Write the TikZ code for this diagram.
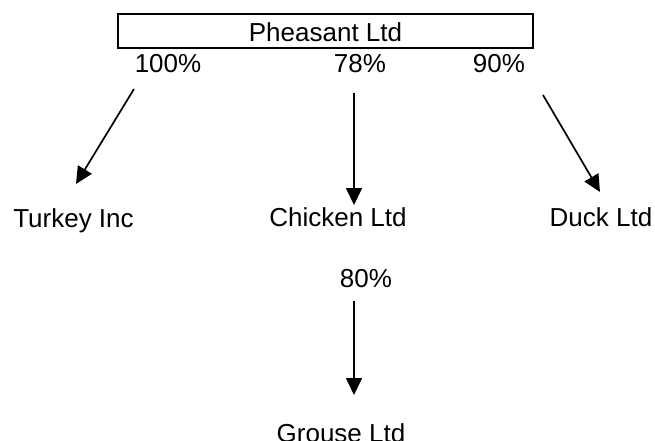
\documentclass[tikz,border=0pt]{standalone}
\usepackage{fontspec}
\setmainfont{Liberation Sans}
\usetikzlibrary{arrows.meta}
\begin{document}
\begin{tikzpicture}[x=1pt,y=-1pt,
  every node/.style={font=\fontsize{26}{30}\selectfont, inner sep=0pt},
  lbl/.style={anchor=base},
  headbox/.style={draw, line width=2pt, minimum width=415pt, minimum height=34pt, text height=22pt, text depth=0pt},
  link/.style={line width=1.7pt, -{Triangle[length=17pt,width=16pt]}}]
\useasboundingbox (0,0) rectangle (655,441);
\clip (0,0) rectangle (655,441);
\node[headbox] (ph) at (325.5,31) {Pheasant Ltd};
\node[lbl] (p100) at (168,73) {100\%};
\node[lbl] (p78) at (360,73) {78\%};
\node[lbl] (p90) at (499,73) {90\%};
\node[lbl] (tk) at (73.5,227) {Turkey Inc};
\node[lbl] (ck) at (338,226) {Chicken Ltd};
\node[lbl] (dk) at (601,226) {Duck Ltd};
\node[lbl] (p80) at (366,287) {80\%};
\node[lbl] (gr) at (341,442) {Grouse Ltd};
\coordinate (a1s) at (134,89);
\coordinate (a1e) at (76,184);
\coordinate (a2s) at (354,93);
\coordinate (a2e) at (354,205);
\coordinate (a3s) at (543,95);
\coordinate (a3e) at (600,192);
\coordinate (a4s) at (354,301);
\coordinate (a4e) at (354,395);
\draw[link] (a1s) -- (a1e);
\draw[link] (a2s) -- (a2e);
\draw[link] (a3s) -- (a3e);
\draw[link] (a4s) -- (a4e);
\end{tikzpicture}
\end{document}
